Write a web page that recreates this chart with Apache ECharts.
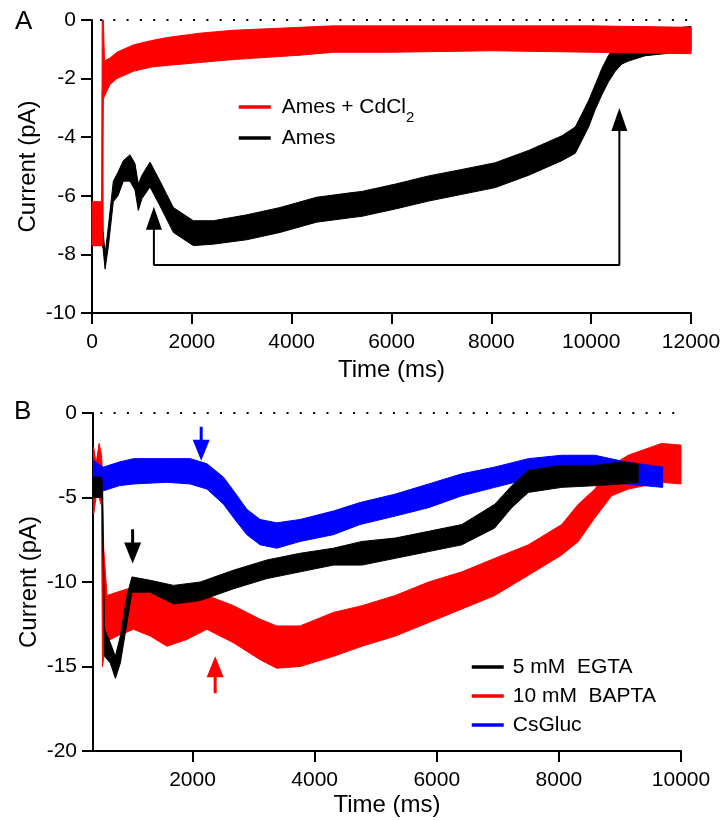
<!DOCTYPE html>
<html><head><meta charset="utf-8">
<script src="https://cdn.jsdelivr.net/npm/echarts@6/dist/echarts.min.js"></script>
<style>html,body{margin:0;padding:0;background:#fff}#c{width:724px;height:821px}</style>
</head><body><div id="c"></div>
<script>
// ---------- Panel A data (time in ms, current in pA: upper / lower edge of the noisy trace) ----------
const amesT  = [0, 200, 208, 222, 262, 330, 427, 520, 628, 761, 861, 928, 1000, 1162, 1363, 1630, 2030, 2431, 3100, 3767, 4500, 5168, 5409, 6076, 6744, 7412, 8079, 8747, 9415, 9682, 9816, 9949, 10083, 10216, 10350, 10483, 10617, 10750, 11084, 11418, 12000];
const amesHi = [-7.3,-7.3,-2.4,-7.2,-8.0,-7.0,-5.5,-5.2,-4.8,-4.6,-4.9,-5.6,-5.3,-4.85,-5.5,-6.4,-6.85,-6.85,-6.65,-6.4,-6.05,-5.9,-5.85,-5.6,-5.32,-5.1,-4.87,-4.45,-3.95,-3.65,-3.2,-2.75,-2.2,-1.65,-1.2,-0.88,-0.65,-0.55,-0.38,-0.32,-0.22];
const amesLo = [-7.7,-7.7,-7.7,-7.8,-8.5,-7.7,-6.2,-6.0,-5.5,-5.5,-5.8,-6.5,-6.1,-5.7,-6.35,-7.25,-7.7,-7.65,-7.5,-7.25,-6.9,-6.75,-6.7,-6.45,-6.18,-5.95,-5.72,-5.3,-4.8,-4.55,-4.1,-3.65,-3.05,-2.55,-2.1,-1.75,-1.5,-1.4,-1.22,-1.16,-1.05];

const cdT  = [0, 195, 205, 228, 250, 360, 500, 827, 1200, 1500, 2160, 2830, 4170, 4835, 6000, 8000, 10000, 12000];
const cdHi = [-6.2,-6.2,0,0,-1.4,-1.3,-1.1,-0.85,-0.7,-0.6,-0.45,-0.35,-0.25,-0.2,-0.2,-0.2,-0.2,-0.25];
const cdLo = [-7.7,-7.7,-7.7,-2.7,-2.6,-2.2,-2.0,-1.75,-1.6,-1.55,-1.45,-1.35,-1.2,-1.1,-1.1,-1.05,-1.1,-1.15];

const aZeroT = [160, 11940];
const aBracketT = [1240, 1240, 10565, 10565];
const aBracketV = [-6.9, -8.36, -8.36, -3.5];
const aHeadT = [1240, 10565];
const aHeadV = [-6.77, -3.40];

// ---------- Panel B data ----------
const csT  = [380,450,543,800,1034,1581,1962,2235,2508,2672,2890,3107,3380,3761,4307,4742,5320,5866,6411,6950,7500,8046,8590,9100,9700];
const csHi = [-2.8,-3.0,-3.2,-2.9,-2.7,-2.7,-2.7,-3.0,-3.8,-4.6,-5.7,-6.3,-6.5,-6.3,-5.8,-5.3,-4.8,-4.2,-3.6,-3.2,-2.7,-2.5,-2.5,-2.9,-3.2];
const csLo = [-4.6,-4.7,-4.6,-4.3,-4.2,-4.1,-4.2,-4.5,-5.4,-6.2,-7.2,-7.8,-8.0,-7.6,-7.2,-6.6,-6.1,-5.6,-4.9,-4.4,-3.9,-3.8,-3.9,-4.2,-4.4];

const egT  = [380,500,520,560,654,736,818,927,1008,1308,1690,2126,2672,3217,3761,4307,4775,5320,5866,6411,6950,7228,7500,8046,8590,9027,9300];
const egHi = [-3.8,-3.8,-4.0,-12.8,-13.6,-14.4,-13.2,-10.8,-9.7,-9.9,-10.2,-10.0,-9.3,-8.7,-8.3,-8.0,-7.6,-7.4,-7.0,-6.6,-5.4,-4.3,-3.4,-3.1,-3.1,-2.9,-3.0];
const egLo = [-5.0,-5.0,-5.0,-14.4,-14.8,-15.7,-14.8,-12.4,-10.6,-10.6,-11.3,-11.1,-10.4,-9.8,-9.4,-9.0,-9.0,-8.6,-8.2,-7.8,-6.8,-5.6,-4.7,-4.4,-4.3,-4.2,-4.1];

const baT  = [380,420,470,510,525,545,600,763,1034,1308,1581,1908,2235,2672,3107,3380,3761,4307,4775,5320,5866,6411,6950,7500,8046,8318,8590,8864,9136,9681,10000];
const baHi = [-2.0,-3.0,-1.8,-2.5,-3.5,-8.0,-10.8,-10.6,-10.3,-10.6,-11.0,-11.0,-10.8,-11.4,-12.2,-12.6,-12.6,-11.8,-11.4,-10.8,-10.0,-9.4,-8.6,-7.8,-6.6,-5.4,-4.5,-3.1,-2.5,-1.8,-1.9];
const baLo = [-6.0,-5.0,-5.0,-5.5,-15.0,-14.5,-13.5,-13.2,-12.8,-13.2,-13.8,-13.4,-12.8,-13.6,-14.6,-15.1,-15.0,-14.4,-13.8,-13.2,-12.4,-11.6,-10.8,-9.6,-8.4,-7.6,-6.2,-4.9,-4.5,-4.1,-4.2];

const bZeroT = [490, 9897];
const bXTicks = [2000, 4000, 6000, 8000, 10000];
// arrows: [time, shaftStart, shaftEnd, headCentre, direction(1 = down, 0 = up)]
const bArrowBlue  = [2142, -0.81, -1.7, -2.21, 1];
const bArrowBlack = [1019, -6.88, -7.8, -8.28, 1];
const bArrowRed   = [2371, -16.59, -15.5, -15.01, 0];

const FONT = "'Liberation Sans', Arial, Helvetica, sans-serif";
const RED = '#ff0000', BLACK = '#000000', BLUE = '#0000ff';

function band(name, xi, T, HI, LO, color, z) {
  return {
    name, type: 'custom', xAxisIndex: xi, yAxisIndex: xi, z,
    itemStyle: { color, borderWidth: 0 },
    data: T.map((t, i) => [t, LO[i], HI[i]]),
    encode: { x: 0, y: [1, 2] },
    renderItem(params, api) {
      if (params.dataIndex !== 0) return null;
      const pts = [];
      for (let i = 0; i < T.length; i++) pts.push(api.coord([T[i], HI[i]]));
      for (let i = T.length - 1; i >= 0; i--) pts.push(api.coord([T[i], LO[i]]));
      return { type: 'polygon', shape: { points: pts }, style: { fill: color, stroke: color, lineWidth: 1 } };
    }
  };
}
// legend key (line style icon) for a trace
function key(name, xi, color) {
  return { name, type: 'line', xAxisIndex: xi, yAxisIndex: xi, data: [], symbol: 'none', silent: true,
    lineStyle: { color, width: 3.5, cap: 'butt' }, itemStyle: { color } };
}
function seg(xi, data, color, width, z) {
  return { type: 'line', xAxisIndex: xi, yAxisIndex: xi, data, symbol: 'none', silent: true, z,
    lineStyle: { color, width } };
}
function heads(xi, data, color, size, rot, z) {
  return { type: 'scatter', xAxisIndex: xi, yAxisIndex: xi, data, symbol: 'triangle', symbolSize: size,
    symbolRotate: rot, itemStyle: { color, opacity: 1 }, silent: true, z };
}
function arrow(a, color) {
  return [
    seg(1, [[a[0], a[1]], [a[0], a[2]]], color, 3, 10),
    heads(1, [[a[0], a[3]]], color, [17, 21], a[4] ? 180 : 0, 10)
  ];
}
function zero(xi, T) {
  return { type: 'line', xAxisIndex: xi, yAxisIndex: xi, data: [[T[0], 0], [T[1], 0]], symbol: 'none', silent: true, z: 9,
    lineStyle: { color: '#000', width: 2, type: [2, 11.3] } };
}

const axisCommon = {
  axisLine: { show: true, onZero: false, lineStyle: { color: '#000', width: 2 } },
  axisTick: { show: true, length: 11, lineStyle: { color: '#000', width: 2 } },
  splitLine: { show: false },
  nameLocation: 'middle',
  nameMoveOverlap: false,
  nameTextStyle: { fontSize: 24, color: '#000', fontFamily: FONT }
};
const plain = v => String(v);
const lblX = { fontSize: 21, color: '#000', margin: 19, fontFamily: FONT, formatter: plain };
const lblY = { fontSize: 21, color: '#000', margin: 16, fontFamily: FONT, formatter: plain };

const legendBase = {
  orient: 'vertical', itemWidth: 32, itemHeight: 4, padding: 0, selectedMode: false,
  lineStyle: { width: 3.5, cap: 'butt' },
  itemStyle: { opacity: 0, borderWidth: 0 }
};

const option = {
  animation: false,
  textStyle: { fontFamily: FONT },
  title: [
    { text: 'A', left: 15, top: 9, padding: 0, textStyle: { fontSize: 26, fontWeight: 'normal', color: '#000', fontFamily: FONT } },
    { text: 'B', left: 14, top: 399, padding: 0, textStyle: { fontSize: 26, fontWeight: 'normal', color: '#000', fontFamily: FONT } }
  ],
  grid: [
    { left: 92, top: 20, width: 599, height: 293 },
    { left: 93, top: 413, width: 588, height: 338 }
  ],
  xAxis: [
    Object.assign({}, axisCommon, { gridIndex: 0, type: 'value', min: 0, max: 12000, interval: 2000,
      axisLabel: lblX, name: 'Time (ms)', nameGap: 45 }),
    Object.assign({}, axisCommon, { gridIndex: 1, type: 'value', min: 370, max: 10000,
      axisTick: Object.assign({}, axisCommon.axisTick, { customValues: bXTicks }),
      axisLabel: Object.assign({}, lblX, { customValues: bXTicks }), name: 'Time (ms)', nameGap: 42 })
  ],
  yAxis: [
    Object.assign({}, axisCommon, { gridIndex: 0, type: 'value', min: -10, max: 0, interval: 2,
      axisLabel: lblY, name: 'Current (pA)', nameGap: 52 }),
    Object.assign({}, axisCommon, { gridIndex: 1, type: 'value', min: -20, max: 0, interval: 5,
      axisLabel: lblY, name: 'Current (pA)', nameGap: 52 })
  ],
  legend: [
    Object.assign({}, legendBase, { data: ['Ames + CdCl2'], left: 237, top: 95,
      formatter: () => 'Ames + CdCl{sub|2}',
      textStyle: { fontSize: 21, color: '#000', lineHeight: 24, padding: [0, 0, 0, 6], fontFamily: FONT,
        rich: { sub: { fontSize: 15, color: '#000', fontFamily: FONT, verticalAlign: 'bottom', lineHeight: 15, padding: [0, 0, -6, 0] } } } }),
    Object.assign({}, legendBase, { data: ['Ames'], left: 237, top: 126,
      textStyle: { fontSize: 21, color: '#000', lineHeight: 24, padding: [0, 0, 0, 6], fontFamily: FONT } }),
    Object.assign({}, legendBase, { data: ['5 mM  EGTA', '10 mM  BAPTA', 'CsGluc'], left: 470, top: 655, itemGap: 5,
      textStyle: { fontSize: 21, color: '#000', lineHeight: 24, padding: [0, 0, 0, 4], fontFamily: FONT } })
  ],
  series: [
    key('Ames + CdCl2', 0, RED),
    key('Ames', 0, BLACK),
    key('5 mM  EGTA', 1, BLACK),
    key('10 mM  BAPTA', 1, RED),
    key('CsGluc', 1, BLUE),

    band('Ames', 0, amesT, amesHi, amesLo, BLACK, 2),
    band('Ames + CdCl2', 0, cdT, cdHi, cdLo, RED, 3),
    zero(0, aZeroT),
    seg(0, aBracketT.map((t, i) => [t, aBracketV[i]]), BLACK, 2, 10),
    heads(0, aHeadT.map((t, i) => [t, aHeadV[i]]), BLACK, [16, 23], 0, 10),

    band('10 mM  BAPTA', 1, baT, baHi, baLo, RED, 2),
    band('CsGluc', 1, csT, csHi, csLo, BLUE, 3),
    band('5 mM  EGTA', 1, egT, egHi, egLo, BLACK, 4),
    zero(1, bZeroT),
    ...arrow(bArrowBlue, BLUE),
    ...arrow(bArrowBlack, BLACK),
    ...arrow(bArrowRed, RED)
  ]
};
const chart = echarts.init(document.getElementById('c'), null, { renderer: 'canvas' });
chart.setOption(option);
</script></body></html>
